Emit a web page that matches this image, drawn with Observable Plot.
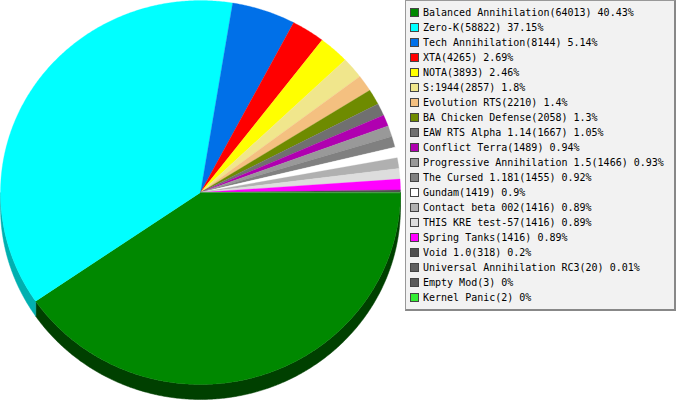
<!DOCTYPE html>
<html>
<head>
<meta charset="utf-8">
<script src="https://cdn.jsdelivr.net/npm/d3@7"></script>
<script src="https://cdn.jsdelivr.net/npm/@observablehq/plot@0.6"></script>
<style>
  html, body { margin: 0; padding: 0; background: #fff; }
  #wrap { position: relative; width: 677px; height: 400px; overflow: hidden; }
  #legend {
    position: absolute; left: 405px; top: 0px; width: 264px;
    padding: 4px 0 4px 4px;
    background: #f2f2f2; border: 1px solid #999;
    border-right: 2px solid #888; border-bottom: 2px solid #888;
    font-family: "DejaVu Sans Mono", monospace; font-size: 10px; color: #000;
  }
  .row { height: 15px; line-height: 15px; display: flex; align-items: center; white-space: nowrap; }
  .sw { width: 7px; height: 7px; border: 1px solid #444; margin-right: 4px; flex: none; }
</style>
</head>
<body>
<div id="wrap"><div id="chart"></div><div id="legend"></div></div>
<script>
const names = ["Balanced Annihilation", "Zero-K", "Tech Annihilation", "XTA", "NOTA", "S:1944",
  "Evolution RTS", "BA Chicken Defense", "EAW RTS Alpha 1.14", "Conflict Terra",
  "Progressive Annihilation 1.5", "The Cursed 1.181", "Gundam", "Contact beta 002",
  "THIS KRE test-57", "Spring Tanks", "Void 1.0", "Universal Annihilation RC3", "Empty Mod", "Kernel Panic"];
const counts = [64013, 58822, 8144, 4265, 3893, 2857, 2210, 2058, 1667, 1489, 1466, 1455, 1419, 1416, 1416, 1416, 318, 20, 3, 2];
const percents = ["40.43", "37.15", "5.14", "2.69", "2.46", "1.8", "1.4", "1.3", "1.05", "0.94",
  "0.93", "0.92", "0.9", "0.89", "0.89", "0.89", "0.2", "0.01", "0", "0"];
const colors = ["#008800", "#00ffff", "#0070e8", "#ff0000", "#ffff00", "#f0e68c", "#f4c080", "#6e8b00",
  "#707070", "#b000b0", "#999999", "#808080", "#ffffff", "#b0b0b0", "#dddddd", "#ff00ff",
  "#505050", "#606060", "#5a5a5a", "#33ee33"];
const sideColors = ["#004000", "#00b0b0"];

const depth = 0.078;
const total = d3.sum(counts);
// slices start at 3 o'clock and go clockwise on screen
let acc = 0;
const slices = names.map((n, i) => {
  const a0 = acc / total * 2 * Math.PI;
  acc += counts[i];
  const a1 = acc / total * 2 * Math.PI;
  return {i, name: n, a0, a1};
});

function arcPts(a0, a1) {
  const n = Math.max(2, Math.ceil((a1 - a0) / (Math.PI / 360)));
  return d3.range(n + 1).map(k => a0 + (a1 - a0) * k / n);
}

const topFace = [];
for (const s of slices) {
  topFace.push({id: s.i, x: 0, y: 0, c: colors[s.i]});
  for (const a of arcPts(s.a0, s.a1)) topFace.push({id: s.i, x: Math.cos(a), y: Math.sin(a), c: colors[s.i]});
}
const sideFace = [];
for (const s of slices) {
  const b0 = Math.max(s.a0, 0), b1 = Math.min(s.a1, Math.PI);
  if (b1 <= b0) continue;
  const c = sideColors[s.i] || d3.color(colors[s.i]).darker(1.2).formatHex();
  const pts = arcPts(b0, b1);
  for (const a of pts) sideFace.push({id: s.i, x: Math.cos(a), y: Math.sin(a), c});
  for (const a of pts.slice().reverse()) sideFace.push({id: s.i, x: Math.cos(a), y: Math.sin(a) + depth, c});
}

const chart = Plot.plot({
  width: 677, height: 400,
  margin: 0,
  x: {domain: [-1, 1], range: [0, 400], axis: null},
  y: {domain: [-1, 1], range: [0, 384], axis: null},
  color: {type: "identity"},
  marks: [
    Plot.line(sideFace, {x: "x", y: "y", z: "id", fill: "c", stroke: "c", strokeWidth: 0.5, curve: "linear-closed"}),
    Plot.line(topFace, {x: "x", y: "y", z: "id", fill: "c", stroke: "c", strokeWidth: 0.3, curve: "linear-closed"})
  ]
});
document.getElementById("chart").appendChild(chart);

const legend = document.getElementById("legend");
names.forEach((n, i) => {
  const row = document.createElement("div");
  row.className = "row";
  const sw = document.createElement("span");
  sw.className = "sw";
  sw.style.background = colors[i];
  const t = document.createElement("span");
  t.textContent = `${n}(${counts[i]}) ${percents[i]}%`;
  row.appendChild(sw); row.appendChild(t);
  legend.appendChild(row);
});
</script>
</body>
</html>
